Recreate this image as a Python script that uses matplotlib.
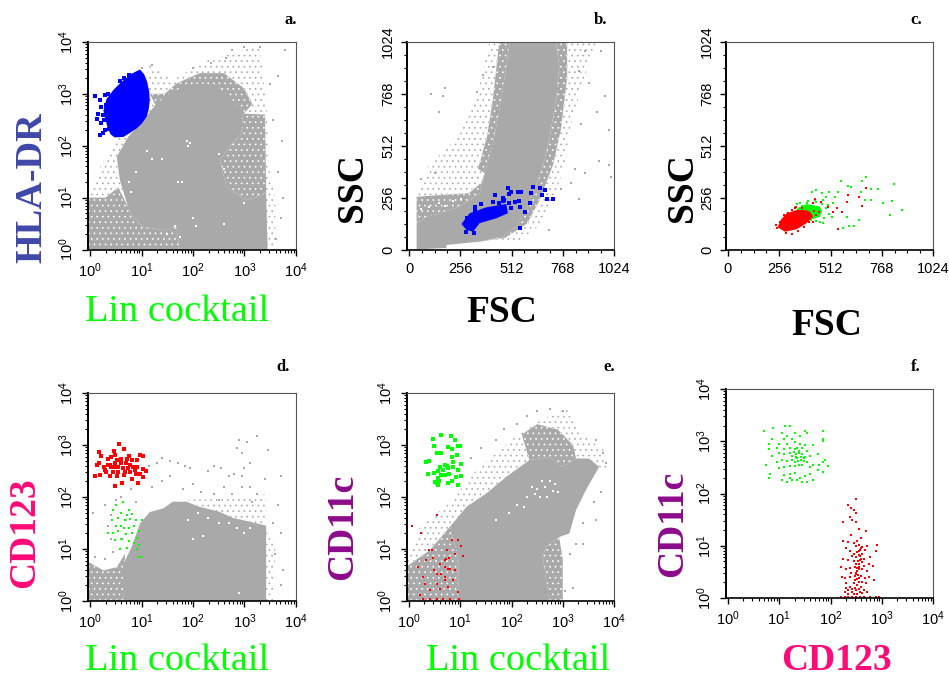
import numpy as np
import matplotlib
matplotlib.use('Agg')
import matplotlib.pyplot as plt
from matplotlib.ticker import FixedLocator, FixedFormatter

plt.rcParams['font.family'] = 'Liberation Sans'
plt.rcParams['mathtext.default'] = 'regular'
plt.rcParams['hatch.linewidth'] = 0.5

W, H = 949, 676
GRAY = '#a9a9a9'

# panels a, d, e, f are read in log10 units, panels b, c in channels
# panel a
a_dense = [(0.74,0.82),(0.58,1.34),(0.52,1.79),(0.74,2.17),(1.03,2.49),(1.29,2.81),(1.50,2.98),(1.68,3.07),(1.90,3.17),(2.13,3.20),(2.35,3.17),(2.52,3.10),(2.77,2.88),(2.97,2.62),(2.94,2.24),(2.71,1.98),(2.52,1.72),(2.65,1.21),(3.03,0.95),(3.42,1.08),(3.45,0),(1.74,0),(1.68,0.44),(1.42,0.37),(1.03,0.44),(0.84,0.63)]
a_mid = [(-0.03,0),(-0.03,1.0),(0.3,1.0),(0.55,1.2),(0.74,0.82),(0.84,0.63),(1.03,0.44),(1.42,0.37),(1.68,0.44),(1.74,0)]
a_mid2 = [(2.97,2.62),(3.4,2.6),(3.42,1.08),(3.03,0.95),(2.65,1.21),(2.52,1.72),(2.71,1.98),(2.94,2.24)]
a_mid3 = [(1.16,3.0),(1.45,3.0),(1.68,3.2),(2.13,3.4),(2.6,3.4),(3.0,3.1),(3.15,2.8),(2.97,2.6),(2.52,3.10),(1.68,3.07),(1.29,2.75)]
a_light = [(-0.03,1.0),(0.2,1.6),(0.5,2.1),(0.9,2.6),(1.16,3.58),(1.6,3.26),(2.26,3.65),(2.77,3.78),(3.29,3.94),(3.42,2.88),(3.48,1.6),(3.6,0.95),(3.6,0),(3.42,0),(1.0,0.4)]
a_holes = [(1.88,2.1),(1.95,2.05),(1.9,2.0),(1.7,1.3),(1.78,1.3),(1.2,1.75),(1.4,1.75),(2.5,1.85),(2.6,1.55),(2.6,0.5),(3.0,0.9),(2.05,0.45),(2.0,0.6),(1.65,0.45),(1.5,0.3),(1.75,0.25),(1.1,1.9),(0.9,1.5),(0.75,1.3),(0.8,1.1)]
a_dots = [(2.0,3.5),(2.35,3.6),(2.65,3.7),(2.75,3.85),(3.0,3.9),(3.3,3.9),(3.65,3.35),(3.72,2.1),(3.65,1.5),(3.7,0.6),(3.62,0.2),(3.78,3.85),(1.2,3.55),(3.75,1.0),(3.55,2.5),(3.5,3.2),(1.0,3.5)]
a_blue = [(0.97,3.47),(1.05,3.38),(1.10,3.26),(1.15,3.05),(1.16,2.88),(1.14,2.7),(1.10,2.56),(1.0,2.42),(0.90,2.33),(0.78,2.25),(0.65,2.17),(0.48,2.16),(0.40,2.22),(0.35,2.33),(0.30,2.5),(0.26,2.68),(0.32,2.9),(0.45,3.07),(0.61,3.23),(0.81,3.39)]
a_blue_dots = [(0.10,2.95),(0.29,2.97),(0.35,3.0),(0.19,2.88),(0.13,2.52),(0.21,2.43),(0.16,2.62),(0.19,2.20),(0.25,2.24),(0.37,2.33),(0.48,2.30),(0.58,3.24),(0.66,3.31),(0.76,3.36),(0.31,2.78),(0.26,2.59),(0.42,2.36),(0.22,2.75),(0.28,2.5),(0.3,2.3)]

# panel b
b_dense = [(38,3),(187,10),(187,25),(353,41),(469,66),(535,115),(601,230),(668,411),(701,543),(734,740),(751,904),(734,1019),(502,1019),(486,904),(452,690),(419,526),(378,378),(353,279),(254,214),(154,181),(88,164),(38,132)]
b_mid = [(38,132),(38,262),(150,270),(300,280),(360,330),(378,378),(353,279),(254,214),(154,181),(88,164)]
b_mid2 = [(353,41),(469,66),(535,115),(601,230),(668,411),(701,543),(734,740),(751,904),(734,1019),(790,1019),(790,850),(760,600),(720,420),(650,240),(590,130),(480,60)]
b_mid3 = [(502,1019),(486,904),(452,690),(419,526),(378,378),(345,400),(390,560),(420,750),(450,1019)]
b_light = [(400,1019),(350,800),(250,560),(100,420),(38,262),(150,270),(300,280),(378,378),(419,526),(452,690),(486,904),(502,1019)]
b_light2 = [(187,25),(353,41),(540,40),(650,120),(720,250),(780,420),(800,580),(860,800),(933,1019),(790,1019),(760,600),(650,240),(480,60)]
b_dots = [(60,350),(130,380),(340,780),(370,860),(420,900),(180,800),(110,770),(150,680),(170,760),(850,880),(900,820),(860,620),(830,400),(880,380),(760,300),(950,440),(1000,420),(1010,360),(940,680),(980,760),(880,980),(960,980),(1000,590),(810,330),(850,250),(700,100)]
b_holes = [(150,230),(180,215),(220,240),(100,210),(260,250),(60,200)]
b_blue = [(262,128),(303,181),(386,210),(486,227),(494,181),(436,156),(353,132),(320,90),(287,99)]
b_blue_dots = [(494,304),(510,288),(502,276),(543,288),(560,288),(431,271),(469,255),(477,247),(452,230),(502,230),(527,235),(548,243),(552,210),(577,189),(606,230),(610,279),(621,309),(655,304),(681,296),(664,271),(689,252),(721,252),(552,107),(358,227),(328,210),(287,90),(323,85),(510,205),(470,240),(420,235),(330,195),(290,160)]

# panel c
c_red = [(247,112),(265,150),(293,181),(343,197),(385,197),(409,189),(426,164),(393,132),(343,102),(285,90)]
c_green = [(343,205),(393,226),(459,214),(470,190),(459,164),(409,148),(360,164)]
c_green_dots = [(691,357),(669,340),(563,340),(616,312),(600,317),(666,288),(716,299),(749,299),(827,324),(774,230),(820,243),(868,197),(810,174),(716,247),(683,247),(547,288),(504,284),(472,279),(442,296),(421,284),(434,247),(492,263),(525,230),(534,263),(476,247),(393,230),(360,233),(335,214),(459,140),(476,132),(517,164),(575,110),(605,120),(628,120),(653,148),(592,164),(345,225),(370,215),(440,235),(470,225),(490,205),(505,175),(480,160),(440,145),(415,150),(400,240),(500,222)]
c_red_dots = [(691,307),(600,271),(592,238),(669,217),(655,263),(570,186),(547,102),(542,205),(500,210),(522,187),(467,238),(437,252),(426,230),(368,205),(335,209),(302,181),(393,164),(440,170),(430,190),(455,185),(245,110),(240,125),(260,140),(280,170),(320,195),(340,210),(290,85),(320,80),(350,92),(380,112),(405,140),(425,140)]

# panel d
d_dense = [(0.65,0),(0.65,0.72),(0.81,1.04),(0.97,1.49),(1.16,1.71),(1.42,1.78),(1.61,1.91),(1.87,1.91),(2.13,1.81),(2.5,1.72),(2.77,1.6),(3.42,1.45),(3.42,0)]
d_mid = [(-0.03,0),(-0.03,0.75),(0.26,0.59),(0.52,0.65),(0.68,0.91),(0.65,0)]
d_light = [(1.9,1.95),(2.3,1.95),(3.42,2.05),(3.42,1.45),(2.77,1.6),(2.13,1.81)]
d_edge = [(3.42,0),(3.42,1.35),(3.6,1.0),(3.55,0)]
d_holes = [(2.1,1.7),(2.3,1.6),(2.5,1.5),(2.85,1.4),(3.0,1.3),(3.1,1.4),(2.2,1.25),(2.7,1.5),(2.9,0.15),(2.0,1.2),(1.9,1.55)]
d_dots = [(1.15,2.6),(1.3,2.65),(1.4,2.75),(1.55,2.7),(1.7,2.65),(1.85,2.6),(1.95,2.55),(2.3,2.5),(2.4,2.6),(2.55,2.55),(2.7,2.4),(2.8,2.45),(2.95,2.4),(3.0,2.55),(3.1,2.65),(2.85,2.95),(2.95,2.85),(2.9,3.1),(3.25,3.17),(3.05,3.05),(3.45,2.9),(3.4,2.35),(3.7,2.4),(3.65,1.85),(3.55,1.5),(3.7,1.3),(3.6,0.9),(3.7,0.3),(3.75,0.6),(1.2,2.2),(1.4,2.3),(1.55,2.4),(1.8,2.15),(2.0,2.25),(2.15,2.1),(2.4,2.05),(2.6,2.2),(2.75,2.05),(2.95,2.2),(3.1,2.2),(3.25,2.05),(3.15,1.9),(2.5,1.95),(0.3,1.85),(0.4,1.65),(0.35,1.45),(0.5,1.95),(0.4,1.2),(0.6,2.0),(0.7,1.55),(0.9,1.9),(0.6,1.2),(0.8,2.15),(0.05,1.7),(0.1,0.85),(0.3,0.8),(0.45,0.95)]
d_red = [(0.57,3.02),(0.18,2.87),(0.21,2.79),(0.47,2.88),(0.66,2.92),(0.41,2.77),(0.48,2.81),(0.35,2.74),(0.61,2.74),(0.76,2.79),(0.97,2.81),(1.02,2.79),(0.13,2.61),(0.17,2.65),(0.10,2.40),(0.27,2.58),(0.34,2.61),(0.41,2.58),(0.48,2.65),(0.55,2.58),(0.61,2.66),(0.70,2.65),(0.77,2.61),(0.84,2.58),(0.92,2.57),(1.03,2.53),(1.08,2.50),(0.39,2.40),(0.48,2.21),(0.63,2.27),(0.81,2.34),(0.94,2.26),(1.02,2.39),(0.19,2.42),(0.31,2.49),(0.45,2.49),(0.55,2.49),(0.68,2.49),(0.77,2.49),(0.90,2.45),(0.98,2.44),(0.52,2.71),(0.71,2.74),(0.81,2.71),(0.92,2.71),(0.39,2.61),(0.29,2.52),(0.48,2.57),(0.65,2.55),(0.74,2.55),(0.87,2.52),(0.53,2.40),(0.66,2.42)]
d_green = [(0.5,1.85),(0.65,1.9),(0.75,1.75),(0.45,1.75),(0.6,1.7),(0.72,1.65),(0.82,1.68),(0.55,1.6),(0.68,1.55),(0.78,1.58),(0.9,1.55),(1.0,1.55),(0.42,1.55),(0.5,1.45),(0.6,1.45),(0.66,1.4),(0.75,1.4),(0.85,1.45),(0.95,1.35),(0.35,1.3),(0.45,1.3),(0.55,1.35),(0.7,1.28),(0.82,1.3),(0.92,1.22),(0.48,1.18),(0.62,1.2),(0.75,1.15),(0.95,1.08),(0.58,1.0),(0.92,1.0),(0.95,0.85),(1.0,0.85),(0.72,1.02),(0.85,1.12)]

# panel e
e_dense = [(0.96,0.01),(0.96,0.85),(0.80,1.43),(1.12,1.81),(1.51,2.07),(1.90,2.39),(2.35,2.71),(2.74,2.77),(3.0,2.58),(3.26,2.74),(3.51,2.74),(3.71,2.58),(3.45,2.13),(3.26,1.75),(3.13,1.30),(2.93,1.23),(2.67,1.04),(2.61,0.85),(2.74,0.01)]
e_mid = [(-0.05,0),(-0.05,0.66),(0.41,0.98),(0.80,1.43),(0.96,0.85),(0.96,0)]
e_mid2 = [(2.61,0.85),(2.74,0),(3.0,0),(3.0,0.8),(2.93,1.23),(2.67,1.04)]
e_mid3 = [(2.35,2.71),(2.74,2.77),(3.0,2.58),(3.26,2.74),(3.2,3.0),(2.9,3.3),(2.5,3.4),(2.2,3.2)]
e_light = [(-0.05,0.66),(0.2,1.4),(0.8,1.9),(1.3,2.5),(2.0,3.1),(2.6,3.5),(3.1,3.7),(3.4,3.2),(3.8,2.9),(3.9,2.5),(3.71,2.58),(3.51,2.74),(3.26,2.74),(3.0,2.58),(2.74,2.77),(2.35,2.71),(1.90,2.39),(1.51,2.07),(1.12,1.81),(0.80,1.43),(0.41,0.98)]
e_holes = [(2.4,2.2),(2.5,2.15),(2.65,2.2),(2.75,2.3),(2.85,2.25),(2.9,2.1),(2.3,2.0),(2.55,2.0),(2.7,2.0),(1.95,1.7),(2.1,1.85),(1.7,1.55),(2.25,1.8),(2.6,2.3),(2.8,2.12),(2.45,2.05)]
e_dots = [(1.2,2.75),(1.4,2.95),(1.7,3.1),(1.85,3.3),(2.1,3.4),(2.3,3.55),(2.5,3.65),(2.75,3.7),(3.0,3.65),(3.65,3.1),(3.78,2.85),(3.85,2.65),(3.75,2.1),(3.6,1.9),(3.4,1.5),(3.25,1.1),(3.15,0.9),(3.4,1.1),(3.2,0.25),(3.05,0.2),(3.65,1.55)]
e_green = [(0.46,3.11),(0.62,3.19),(0.81,3.17),(0.89,3.10),(0.96,2.98),(0.99,2.98),(0.49,2.99),(0.76,2.97),(0.84,2.92),(0.54,2.85),(0.62,2.85),(0.34,2.68),(0.39,2.69),(0.83,2.77),(0.94,2.81),(0.86,2.68),(1.02,2.63),(0.60,2.58),(0.70,2.61),(0.74,2.60),(0.86,2.58),(0.96,2.52),(0.38,2.45),(0.49,2.47),(0.57,2.50),(0.67,2.52),(0.76,2.55),(0.91,2.39),(1.02,2.40),(0.57,2.36),(0.70,2.42),(0.78,2.45),(0.83,2.31),(0.76,2.27),(0.54,2.26),(0.50,2.28),(0.57,2.23),(0.96,2.23),(0.63,2.42),(0.59,2.31)]
e_red = [(0.54,1.66),(0.06,1.45),(0.23,1.30),(0.39,0.98),(0.44,0.98),(0.74,0.98),(0.78,0.83),(0.73,0.80),(0.70,0.78),(0.83,1.18),(0.96,1.17),(1.02,1.06),(1.05,0.87),(0.18,0.66),(0.49,0.59),(0.60,0.72),(0.70,0.66),(0.80,0.62),(0.89,0.59),(0.28,0.46),(0.54,0.51),(0.70,0.46),(0.31,0.33),(0.54,0.33),(0.70,0.40),(0.86,0.40),(0.21,0.11),(0.41,0.21),(0.60,0.24),(0.76,0.27),(0.96,0.17),(0.28,0.04),(0.67,0.04),(0.41,0.03),(0.54,0.03),(0.80,0.03),(0.98,0.03),(0.89,0.91),(0.76,0.62),(0.47,0.82),(0.34,0.78),(0.63,0.51)]

# panel f
f_green = [(0.7,3.2),(0.88,3.25),(1.12,3.3),(1.2,3.3),(1.05,3.15),(1.15,3.1),(1.3,3.15),(1.55,3.15),(1.5,3.2),(1.85,3.2),(0.85,3.05),(1.1,3.05),(1.25,3.05),(1.4,3.1),(1.85,3.0),(1.85,3.05),(0.8,2.95),(1.0,2.95),(1.15,2.95),(1.3,2.98),(1.4,2.95),(1.5,2.92),(1.65,2.93),(0.8,2.85),(0.95,2.88),(1.1,2.85),(1.2,2.88),(1.35,2.87),(1.45,2.87),(1.55,2.82),(0.85,2.72),(1.0,2.78),(1.1,2.75),(1.2,2.78),(1.25,2.72),(1.32,2.75),(1.38,2.78),(1.45,2.75),(1.5,2.7),(1.6,2.72),(1.75,2.75),(1.9,2.65),(0.75,2.55),(0.95,2.6),(1.05,2.65),(1.15,2.62),(1.25,2.65),(1.3,2.6),(1.35,2.68),(1.42,2.65),(1.48,2.62),(1.55,2.6),(1.65,2.55),(1.78,2.55),(1.85,2.6),(1.95,2.52),(0.82,2.38),(1.0,2.48),(1.1,2.5),(1.2,2.52),(1.3,2.52),(1.38,2.55),(1.45,2.55),(1.6,2.5),(1.75,2.45),(1.85,2.42),(0.8,2.3),(1.1,2.35),(1.2,2.38),(1.3,2.4),(1.4,2.3),(1.5,2.33),(1.6,2.38),(1.05,2.25),(1.15,2.22),(1.25,2.25),(1.35,2.25),(1.45,2.22),(1.55,2.22),(1.65,2.25),(1.2,2.3),(1.3,2.85),(1.38,2.82),(1.42,2.7),(1.36,2.62),(1.48,2.68),(1.33,2.7),(1.28,2.8)]
f_red = [(2.5,1.9),(2.35,1.78),(2.4,1.72),(2.45,1.68),(2.5,1.62),(2.38,1.55),(2.42,1.5),(2.25,1.45),(2.5,1.45),(2.4,1.2),(2.55,1.32),(2.6,1.15),(2.7,1.28),(2.25,1.1),(2.35,1.08),(2.45,1.05),(2.52,1.1),(2.62,0.98),(2.72,1.0),(2.9,1.02),(2.88,0.9),(2.3,0.95),(2.38,0.9),(2.45,0.85),(2.55,0.9),(2.62,0.85),(2.68,0.92),(2.78,0.78),(2.25,0.75),(2.35,0.72),(2.45,0.7),(2.5,0.78),(2.58,0.72),(2.65,0.75),(2.75,0.65),(2.82,0.62),(2.2,0.6),(2.3,0.55),(2.38,0.58),(2.48,0.6),(2.55,0.55),(2.62,0.55),(2.72,0.52),(2.85,0.35),(2.22,0.4),(2.28,0.38),(2.38,0.4),(2.5,0.45),(2.55,0.38),(2.6,0.42),(2.68,0.38),(2.75,0.4),(2.3,0.28),(2.38,0.22),(2.45,0.28),(2.52,0.25),(2.6,0.22),(2.7,0.28),(2.28,0.12),(2.35,0.15),(2.42,0.12),(2.5,0.15),(2.58,0.12),(2.65,0.15),(2.72,0.12),(2.2,0.02),(2.28,0.02),(2.35,0.02),(2.42,0.02),(2.5,0.02),(2.58,0.02),(2.65,0.02),(2.78,0.02),(2.88,0.02),(2.95,0.02),(2.55,0.65),(2.52,0.52),(2.56,0.82),(2.62,0.68),(2.48,0.34),(2.5,1.0),(2.55,1.02),(2.6,0.95),(2.57,0.92),(2.52,0.88),(2.58,0.8),(2.53,0.7),(2.5,0.65),(2.56,0.6),(2.52,0.58),(2.5,0.48),(2.54,0.44),(2.47,0.42),(2.52,0.36),(2.56,0.3),(2.48,0.2),(2.42,0.18),(2.55,0.18),(2.62,0.1),(2.45,0.08),(2.35,0.08),(2.52,0.08),(2.3,0.2),(2.62,0.3),(2.4,0.48),(2.65,0.62),(2.42,0.8),(2.6,0.75)]

log_ticks = [1, 10, 100, 1000, 10000]
log_labels = ['$10^{0}$', '$10^{1}$', '$10^{2}$', '$10^{3}$', '$10^{4}$']
lin_ticks = [0, 256, 512, 768, 1024]
lin_labels = ['0', '256', '512', '768', '1024']
log_minor = [m * 10**d for d in range(4) for m in range(2, 10)]
lin_minor = list(range(64, 1024, 64))


def make_axes(left, top, right, bottom, log, xoff=2):
    ax = fig.add_axes([left/W, 1-bottom/H, (right-left)/W, (bottom-top)/H])
    span = right - left
    if log:
        ax.set_xscale('log')
        ax.set_yscale('log')
        ax.set_xlim(10**(-4*xoff/(span-xoff)), 1e4)
        ax.set_ylim(1, 1e4)
        ticks, labels, minor = log_ticks, log_labels, log_minor
    else:
        ax.set_xlim(-1024*xoff/(span-xoff), 1024)
        ax.set_ylim(0, 1024)
        ticks, labels, minor = lin_ticks, lin_labels, lin_minor
    for axis in (ax.xaxis, ax.yaxis):
        axis.set_major_locator(FixedLocator(ticks))
        axis.set_major_formatter(FixedFormatter(labels))
        axis.set_minor_locator(FixedLocator(minor))
        axis.set_minor_formatter(FixedFormatter([]))
    ax.tick_params(which='major', length=4.5, width=1, labelsize=10.5, pad=4)
    ax.tick_params(which='minor', length=2.5, width=0.8)
    ax.tick_params(axis='y', which='major', labelrotation=90)
    for lab in ax.get_yticklabels():
        lab.set_va('center')
    ax.spines['left'].set_linewidth(1.4)
    ax.spines['bottom'].set_linewidth(1.2)
    ax.spines['top'].set_color('#555555')
    ax.spines['right'].set_color('#555555')
    return ax


def vals(points, log):
    arr = np.array(points, dtype=float)
    return 10**arr if log else arr


def area(ax, points, color, log):
    arr = vals(points, log)
    ax.fill(arr[:, 0], arr[:, 1], color=color, lw=0)


def speck(ax, points, log, face='white', dot=GRAY, hatch='...'):
    # gray cloud that is too dense to list dot by dot
    arr = vals(points, log)
    ax.fill(arr[:, 0], arr[:, 1], facecolor=face, edgecolor=dot, hatch=hatch, lw=0)


def dots(ax, points, color, size, log):
    arr = vals(points, log)
    ax.scatter(arr[:, 0], arr[:, 1], s=size, c=color, marker='s', linewidths=0, clip_on=True)


def label(x, y, text, color='black', size=27, rotation=0, weight='bold'):
    fig.text(x/W, 1-y/H, text, color=color, fontsize=size, rotation=rotation, weight=weight,
             family='Liberation Serif', ha='center', va='center')


fig = plt.figure(figsize=(W/100, H/100), dpi=100, facecolor='white')

ax = make_axes(88, 42, 296, 249.5, True)
speck(ax, a_light, True)
speck(ax, a_mid, True, face=GRAY, dot='white', hatch='...')
speck(ax, a_mid2, True, face=GRAY, dot='white', hatch='...')
speck(ax, a_mid3, True, face=GRAY, dot='white', hatch='...')
area(ax, a_dense, GRAY, True)
dots(ax, a_holes, 'white', 3, True)
dots(ax, a_dots, GRAY, 2.5, True)
area(ax, a_blue, '#0000ff', True)
dots(ax, a_blue_dots, '#0000ff', 5, True)

ax = make_axes(407, 42, 614, 250, False)
speck(ax, b_light, False)
speck(ax, b_light2, False)
speck(ax, b_mid, False, face=GRAY, dot='white')
speck(ax, b_mid2, False, face=GRAY, dot='white')
speck(ax, b_mid3, False, face=GRAY, dot='white')
area(ax, b_dense, GRAY, False)
dots(ax, b_holes, 'white', 3, False)
dots(ax, b_dots, GRAY, 2.5, False)
area(ax, b_blue, '#0000ff', False)
dots(ax, b_blue_dots, '#0000ff', 5, False)

ax = make_axes(726, 42, 933, 250, False)
area(ax, c_green, '#00ff00', False)
dots(ax, c_green_dots, '#00ff00', 2.5, False)
area(ax, c_red, '#ff0000', False)
dots(ax, c_red_dots, '#ff0000', 2.5, False)

ax = make_axes(88, 393, 296, 601, True)
speck(ax, d_light, True)
speck(ax, d_edge, True)
speck(ax, d_mid, True, face=GRAY, dot='white')
area(ax, d_dense, GRAY, True)
dots(ax, d_holes, 'white', 3, True)
dots(ax, d_dots, GRAY, 2, True)
dots(ax, d_red, '#ff0000', 6, True)
dots(ax, d_green, '#00ff00', 2, True)

ax = make_axes(407, 393, 614, 601, True)
speck(ax, e_light, True)
speck(ax, e_mid, True, face=GRAY, dot='white')
speck(ax, e_mid2, True, face=GRAY, dot='white')
speck(ax, e_mid3, True, face=GRAY, dot='white')
area(ax, e_dense, GRAY, True)
dots(ax, e_holes, 'white', 3, True)
dots(ax, e_dots, GRAY, 2.5, True)
dots(ax, e_green, '#00ff00', 6, True)
dots(ax, e_red, '#ff0000', 2.5, True)

ax = make_axes(726, 389, 933, 598, True)
dots(ax, f_green, '#00ff00', 2.5, True)
dots(ax, f_red, '#ff0000', 3.5, True)

# axis titles, placed from pixel positions
label(177, 312, 'Lin cocktail', '#00ff00', 27.5, weight='normal')
label(177, 661, 'Lin cocktail', '#00ff00', 27.5, weight='normal')
label(518, 661, 'Lin cocktail', '#00ff00', 27.5, weight='normal')
label(32, 188, 'HLA-DR', '#3f48a8', 27.5, 90)
label(353, 188, 'SSC', 'black', 27, 90)
label(682, 188, 'SSC', 'black', 27, 90)
label(502, 313, 'FSC')
label(827, 325, 'FSC')
label(25, 533, 'CD123', '#ff0a78', 27, 90)
label(343, 527, 'CD11c', '#8b0a8b', 27, 90)
label(673, 524, 'CD11c', '#8b0a8b', 27, 90)
label(836, 661, 'CD123', '#ff0a78', 27)

# panel letters
label(291, 20, 'a.', size=12)
label(601, 20, 'b.', size=12)
label(916, 20, 'c.', size=12)
label(283, 367, 'd.', size=12)
label(609, 367, 'e.', size=12)
label(916, 367, 'f.', size=12)

fig.savefig('out.png', dpi=100)
